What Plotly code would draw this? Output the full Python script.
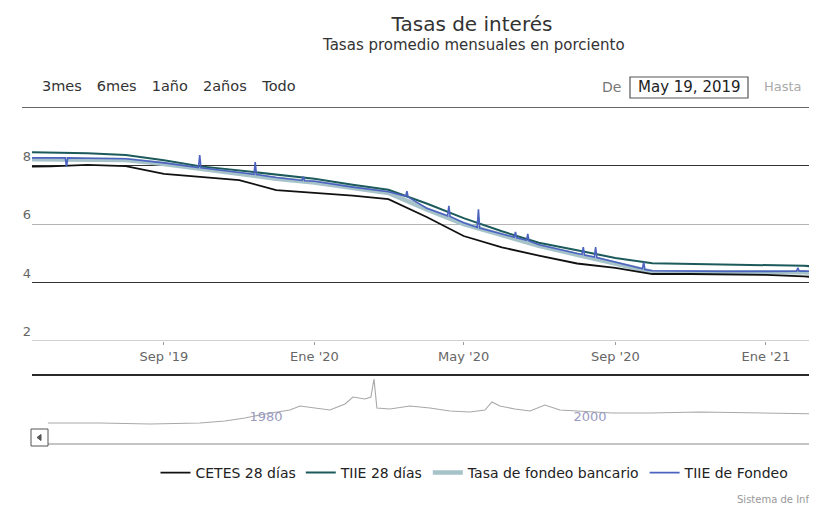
import plotly.graph_objects as go

W, H = 817, 508
OFF = 8  # the page body adds 8px around the figure
FONT = "DejaVu Sans"

# ---------------- data ----------------
months = ["2019-05-01", "2019-06-01", "2019-07-01", "2019-08-01", "2019-09-01", "2019-10-01",
          "2019-11-01", "2019-12-01", "2020-01-01", "2020-02-01", "2020-03-01", "2020-04-01",
          "2020-05-01", "2020-06-01", "2020-07-01", "2020-08-01", "2020-09-01", "2020-10-01",
          "2020-11-01", "2020-12-01", "2021-01-01", "2021-02-01", "2021-03-01"]
cetes28 = [7.95, 7.97, 8.02, 7.98, 7.71, 7.61, 7.50, 7.16, 7.06, 6.97, 6.85, 6.24,
           5.59, 5.20, 4.92, 4.65, 4.50, 4.29, 4.29, 4.27, 4.26, 4.21, 4.12]
tiie28 = [8.46, 8.44, 8.42, 8.36, 8.18, 7.97, 7.83, 7.68, 7.55, 7.34, 7.17, 6.70,
          6.20, 5.75, 5.36, 5.10, 4.84, 4.66, 4.64, 4.62, 4.60, 4.57, 4.50]
fondeo = [8.22, 8.22, 8.21, 8.19, 8.05, 7.88, 7.72, 7.55, 7.42, 7.22, 7.06, 6.50,
          6.00, 5.62, 5.25, 4.95, 4.66, 4.36, 4.34, 4.34, 4.34, 4.35, 4.30]

tiie_fondeo_dates = [
    "2019-05-01", "2019-06-01", "2019-06-13", "2019-06-14", "2019-06-15", "2019-07-01",
    "2019-08-01", "2019-09-01", "2019-09-29", "2019-09-30", "2019-10-01", "2019-11-01",
    "2019-11-13", "2019-11-14", "2019-11-15", "2019-12-01", "2019-12-22", "2019-12-23",
    "2019-12-24", "2020-01-01", "2020-02-01", "2020-03-01", "2020-03-15", "2020-03-16",
    "2020-03-17", "2020-04-01", "2020-04-18", "2020-04-19", "2020-04-20", "2020-05-01",
    "2020-05-12", "2020-05-13", "2020-05-14", "2020-06-01", "2020-06-11", "2020-06-12",
    "2020-06-13", "2020-06-21", "2020-06-22", "2020-06-23", "2020-07-01", "2020-08-01",
    "2020-08-05", "2020-08-06", "2020-08-07", "2020-08-15", "2020-08-16", "2020-08-17",
    "2020-09-01", "2020-09-23", "2020-09-24", "2020-09-25", "2020-10-01", "2020-11-01",
    "2020-12-01", "2021-01-01", "2021-01-26", "2021-01-27", "2021-01-28", "2021-02-01",
    "2021-03-01"]
tiie_fondeo_vals = [
    8.26, 8.26, 8.26, 7.95, 8.26, 8.25,
    8.23, 8.09, 7.93, 8.36, 7.92, 7.76,
    7.70, 8.12, 7.69, 7.59, 7.49, 7.62,
    7.48, 7.46, 7.26, 7.10, 6.95, 7.12,
    6.92, 6.54, 6.28, 6.62, 6.26, 6.04,
    5.88, 6.50, 5.86, 5.66, 5.55, 5.73,
    5.53, 5.44, 5.66, 5.42, 5.29, 4.99,
    4.96, 5.21, 4.94, 4.87, 5.21, 4.85,
    4.70, 4.47, 4.70, 4.44, 4.40, 4.38,
    4.38, 4.38, 4.39, 4.50, 4.39, 4.39,
    4.34]

nav_years = [1966.54, 1969.75, 1972.84, 1975.93, 1977.47, 1978.70, 1979.94, 1981.48, 1982.10,
             1983.02, 1983.95, 1984.88, 1985.37, 1986.11, 1986.48, 1986.67, 1986.85, 1987.65,
             1988.89, 1990.12, 1991.36, 1992.59, 1993.52, 1993.95, 1994.44, 1995.37, 1996.30,
             1997.22, 1998.15, 2001.36, 2003.70, 2006.79, 2009.88, 2012.96, 2014.81]
nav_vals = [29.4, 29.4, 27.9, 29.4, 32.4, 36.8, 42.6, 48.5, 54.4,
            51.5, 48.5, 57.4, 67.6, 64.7, 67.6, 94.1, 51.5, 50.0,
            54.4, 51.5, 47.0, 45.6, 48.5, 60.3, 54.4, 50.0, 47.0,
            55.9, 48.5, 44.1, 44.1, 45.6, 44.1, 42.6, 42.6]

x_tick_vals = ["2019-09-01", "2020-01-01", "2020-05-01", "2020-09-01", "2021-01-01"]
x_tick_text = ["Sep '19", "Ene '20", "May '20", "Sep '20", "Ene '21"]
y_tick_vals = [2, 4, 6, 8, 10]
y_tick_text = ["2", "4", "6", "8", ""]
y_dark_grid = [4, 8]
nav_tick_vals = [1980, 2000]
nav_tick_text = ["1980", "2000"]


# ---------------- layout helpers (screen pixel -> paper) ----------------
def px(x):
    return (x - OFF) / W


def py(y):
    return 1 - (y - OFF) / H


fig = go.Figure()

fig.add_trace(go.Scatter(x=months, y=fondeo, name="Tasa de fondeo bancario",
                         mode="lines", line=dict(color="#a6c3ca", width=4.5),
                         legendrank=3))
fig.add_trace(go.Scatter(x=months, y=cetes28, name="CETES 28 días", mode="lines",
                         line=dict(color="#111111", width=1.8), legendrank=1))
fig.add_trace(go.Scatter(x=months, y=tiie28, name="TIIE 28 días", mode="lines",
                         line=dict(color="#1d5a5c", width=2), legendrank=2))
fig.add_trace(go.Scatter(x=tiie_fondeo_dates, y=tiie_fondeo_vals, name="TIIE de Fondeo",
                         mode="lines", line=dict(color="#4d63c0", width=1.6),
                         legendrank=4))
fig.add_trace(go.Scatter(x=nav_years, y=nav_vals, xaxis="x2", yaxis="y2", mode="lines",
                         line=dict(color="#a8a8a8", width=1.1), showlegend=False,
                         hoverinfo="skip"))
# empty trace so the overlaid grid axis is drawn
fig.add_trace(go.Scatter(x=[], y=[], yaxis="y3", showlegend=False, hoverinfo="skip"))

shapes = []
# edge lines of the plot (y = 10 dark, y = 2 light), as printed
shapes.append(dict(type="line", xref="paper", yref="y", x0=px(22), x1=1, y0=10, y1=10,
                   line=dict(color="#333333", width=1.3)))
shapes.append(dict(type="line", xref="paper", yref="y", x0=px(32), x1=1, y0=2, y1=2,
                   line=dict(color="#a0a0a0", width=1)))
# navigator outline and scrollbar
shapes.append(dict(type="line", xref="paper", yref="paper", x0=px(32), x1=1, y0=py(375), y1=py(375),
                   line=dict(color="#2a2a2a", width=2)))
shapes.append(dict(type="line", xref="paper", yref="paper", x0=px(48), x1=1, y0=py(444), y1=py(444),
                   line=dict(color="#8a8a8a", width=1)))
shapes.append(dict(type="rect", xref="paper", yref="paper", x0=px(31), x1=px(48), y0=py(446), y1=py(429),
                   line=dict(color="#555555", width=1), fillcolor="white"))
shapes.append(dict(type="path", xref="paper", yref="paper",
                   path=f"M {px(37)},{py(437.5)} L {px(41)},{py(434.5)} L {px(41)},{py(440.5)} Z",
                   fillcolor="#555555", line=dict(color="#555555", width=1)))
# date input boxes
shapes.append(dict(type="rect", xref="paper", yref="paper", x0=px(630), x1=px(748), y0=py(98), y1=py(77),
                   line=dict(color="#555555", width=1.2)))
shapes.append(dict(type="rect", xref="paper", yref="paper", x0=px(812), x1=px(850), y0=py(98), y1=py(77),
                   line=dict(color="#555555", width=1.2)))
# scanned top edge
shapes.append(dict(type="line", xref="paper", yref="paper", x0=px(0), x1=1, y0=py(3), y1=py(3),
                   line=dict(color="#c4c4c4", width=1, dash="dash")))

annotations = [
    dict(text="Tasas promedio mensuales en porciento", x=px(473), y=py(45), xref="paper", yref="paper",
         xanchor="center", yanchor="middle", showarrow=False, font=dict(size=15, color="#333333")),
    dict(text="De", x=px(600), y=py(87), xref="paper", yref="paper", xanchor="left", yanchor="middle",
         showarrow=False, font=dict(size=14, color="#777777")),
    dict(text="May 19, 2019", x=px(689), y=py(87), xref="paper", yref="paper", xanchor="center",
         yanchor="middle", showarrow=False, font=dict(size=15, color="#222222")),
    dict(text="Hasta", x=px(762), y=py(87), xref="paper", yref="paper", xanchor="left", yanchor="middle",
         showarrow=False, font=dict(size=13, color="#aaaaaa")),
    dict(text="Sistema de Información Económica", x=px(735), y=py(499), xref="paper", yref="paper",
         xanchor="left", yanchor="middle", showarrow=False, font=dict(size=10, color="#999999")),
]

fig.update_layout(
    width=W, height=H,
    margin=dict(l=0, r=0, t=0, b=0),
    paper_bgcolor="white", plot_bgcolor="white",
    font=dict(family=FONT, color="#333333"),
    title=dict(text="Tasas de interés", x=px(472), y=py(24), xref="paper", yref="paper",
               xanchor="center", yanchor="middle", font=dict(size=20, color="#333333")),
    showlegend=True,
    legend=dict(orientation="h", x=px(475), xanchor="center", y=py(473), yanchor="middle",
                font=dict(size=14, color="#222222"), bgcolor="rgba(0,0,0,0)", itemwidth=30),
    xaxis=dict(
        domain=[px(32), 1], range=["2019-05-17", "2021-02-18"], type="date",
        anchor="y", showgrid=False, zeroline=False, showline=False,
        tickvals=x_tick_vals, ticktext=x_tick_text, ticks="outside", ticklen=3,
        tickcolor="#999999", tickfont=dict(size=13, color="#666666"),
        rangeselector=dict(
            buttons=[dict(count=3, label="3mes", step="month", stepmode="backward"),
                     dict(count=6, label="6mes", step="month", stepmode="backward"),
                     dict(count=1, label="1año", step="year", stepmode="backward"),
                     dict(count=2, label="2años", step="year", stepmode="backward"),
                     dict(label="Todo", step="all")],
            x=px(37), xanchor="left", y=py(88), yanchor="middle",
            bgcolor="white", activecolor="white", bordercolor="white", borderwidth=0,
            font=dict(size=14.5, color="#333333")),
    ),
    yaxis=dict(
        domain=[py(341), py(107)], range=[2, 10], anchor="x",
        tickvals=y_tick_vals, ticktext=y_tick_text, ticklabelposition="outside top",
        gridcolor="#b4b4b4", gridwidth=1, zeroline=False, showline=False, ticks="",
        tickfont=dict(size=13, color="#666666"),
    ),
    yaxis3=dict(
        overlaying="y", anchor="x", range=[2, 10], tickvals=y_dark_grid,
        showticklabels=False, ticks="", gridcolor="#333333", gridwidth=1.3,
        zeroline=False, showline=False,
    ),
    xaxis2=dict(
        domain=[px(32), 1], range=[1965.56, 2014.51], anchor="y2",
        showgrid=False, zeroline=False, showline=False, ticks="",
        tickvals=nav_tick_vals, ticktext=nav_tick_text, ticklabelposition="inside",
        ticklabelstandoff=16, tickfont=dict(size=13, color="#9a9ac0"),
    ),
    yaxis2=dict(domain=[py(443), py(375)], range=[0, 100], anchor="x2", visible=False),
    shapes=shapes,
    annotations=annotations,
)

fig.write_html("out.html")
